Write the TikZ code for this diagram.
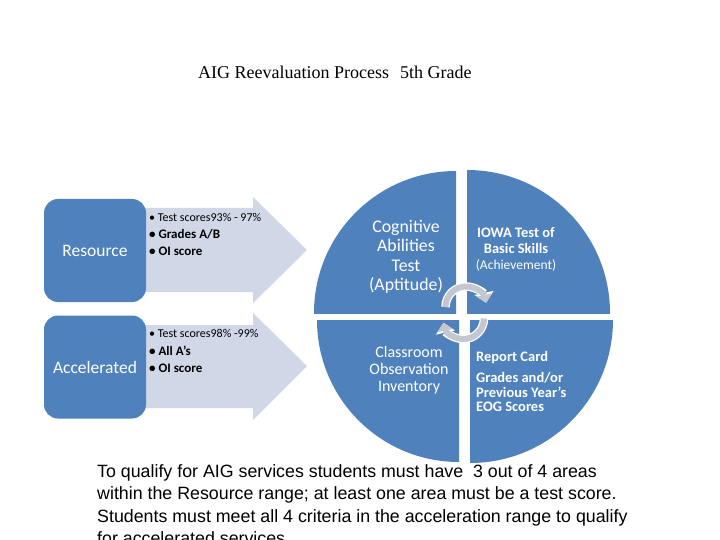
\documentclass[tikz,border=0pt]{standalone}
\usepackage{fontspec}
\setmainfont{Carlito}
\newfontfamily\arialf{Liberation Sans}
\newfontfamily\timesf{Liberation Serif}
\usetikzlibrary{arrows.meta}
\definecolor{qblue}{RGB}{79,129,189}
\definecolor{arrfill}{RGB}{208,216,232}
\definecolor{cycgray}{RGB}{196,199,208}
\tikzset{
  catbox/.style={fill=qblue, rounded corners=14pt, minimum width=102pt, minimum height=103pt,
    text=white, font=\fontsize{17.5}{20}\selectfont, inner sep=0pt},
  small/.style={anchor=base west, inner sep=0pt, font=\fontsize{12}{14}\selectfont},
  bul/.style={anchor=base west, inner sep=0pt, font=\bfseries\fontsize{13}{15}\selectfont},
  qtext/.style={text=white, align=center, inner sep=0pt},
  rctext/.style={text=white, anchor=base west, inner sep=0pt, font=\bfseries\fontsize{14.5}{15}\selectfont},
  note/.style={anchor=base west, inner sep=0pt, font=\arialf\fontsize{17.8}{20}\selectfont},
  cycunder/.style={draw=white, line width=8.5pt, -{Triangle[length=10pt,width=19pt]}},
  cycover/.style={draw=cycgray, line width=6pt, -{Triangle[length=8pt,width=15pt]}}
}
\begin{document}
\begin{tikzpicture}[x=1pt,y=-1pt]
\useasboundingbox (0,0) rectangle (720,540);
\clip (0,0) rectangle (720,540);
\fill[white] (0,0) rectangle (720,540);

% title
\node[anchor=base west, inner sep=0pt, font=\timesf\fontsize{18}{20}\selectfont] (title) at (198,79)
  {AIG Reevaluation Process\hspace{11pt}5th Grade};

% block arrows
\fill[arrfill] (140,208) -- (253,208) -- (253,197) -- (307,250) -- (253,303) -- (253,292) -- (140,292) -- cycle;
\fill[arrfill] (140,325) -- (253,325) -- (253,313) -- (307,366) -- (253,420) -- (253,408) -- (140,408) -- cycle;

% category boxes
\node[catbox] (res) at (95,250.5) {Resource};
\node[catbox] (acc) at (95,367) {Accelerated};

% criteria
\node[small] (r1) at (149,222) {• Test scores93\% - 97\%};
\node[bul] (r2) at (149,238.5) {• Grades A/B};
\node[bul] (r3) at (149,255) {• OI score};
\node[small] (a1) at (149,337) {• Test scores98\% -99\%};
\node[bul] (a2) at (149,355) {• All A’s};
\node[bul] (a3) at (149,372.5) {• OI score};

% quadrants
\begin{scope}
  \clip (310,160) rectangle (456,313);
  \fill[qblue] (456,313) circle[radius=142pt];
\end{scope}
\begin{scope}
  \clip (467,160) rectangle (620,313);
  \fill[qblue] (467,313) circle[radius=143pt];
\end{scope}
\begin{scope}
  \clip (310,320) rectangle (459,470);
  \fill[qblue] (459,320) circle[radius=142pt];
\end{scope}
\begin{scope}
  \clip (470,320) rectangle (620,470);
  \fill[qblue] (470,320) circle[radius=143pt];
\end{scope}

% quadrant texts
\node[qtext, font=\fontsize{17.8}{19.5}\selectfont] (cog) at (406,257)
  {Cognitive\\Abilities\\Test\\(Aptitude)};
\node[qtext, font=\fontsize{13.5}{16}\selectfont] (iowa) at (516,249.5)
  {\textbf{\fontsize{14.5}{16}\selectfont IOWA Test of}\\\textbf{\fontsize{14.5}{16}\selectfont Basic Skills}\\(Achievement)};
\node[qtext, font=\fontsize{16}{17}\selectfont] (cls) at (409,370.5)
  {Classroom\\Observation\\Inventory};
\node[rctext] (rc1) at (476,361) {Report Card};
\node[rctext] (rc2) at (476,382.5) {Grades and/or};
\node[rctext] (rc3) at (476,397) {Previous Year’s};
\node[rctext] (rc4) at (476,411.5) {EOG Scores};

% cycle arrows
\coordinate (ta) at (445.5,307);
\coordinate (ba) at (484,318.5);
\draw[cycunder] (ta) arc[start angle=180, end angle=12, radius=20.5pt];
\draw[cycover] (ta) arc[start angle=180, end angle=12, radius=20.5pt];
\draw[cycunder] (ba) arc[start angle=0, end angle=-168, radius=20.5pt];
\draw[cycover] (ba) arc[start angle=0, end angle=-168, radius=20.5pt];

% note
\node[note] (n1) at (97,477) {To qualify for AIG services students must have\ \ 3 out of 4 areas};
\node[note] (n2) at (97,499.5) {within the Resource range; at least one area must be a test score.};
\node[note] (n3) at (97,522) {Students must meet all 4 criteria in the acceleration range to qualify};
\node[note] (n4) at (97,544.5) {for accelerated services.};
\end{tikzpicture}
\end{document}
